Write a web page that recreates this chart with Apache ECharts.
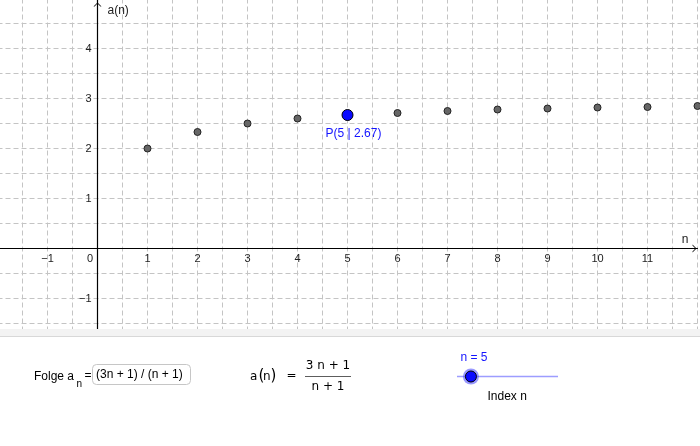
<!DOCTYPE html>
<html><head><meta charset="utf-8">
<script src="https://cdn.jsdelivr.net/npm/echarts@6/dist/echarts.min.js"></script>
<style>html,body{margin:0;padding:0;background:#fff}#c{width:700px;height:446px}</style>
</head><body><div id="c"></div>
<script>
// ---- data ----
const nValues = [1, 2, 3, 4, 5, 6, 7, 8, 9, 10, 11, 12];
const aValues = [2, 2.33, 2.5, 2.6, 2.67, 2.71, 2.75, 2.78, 2.8, 2.82, 2.83, 2.85];
const currentIndex = 5;
const sliderMin = 1, sliderMax = 30;
const xTickLabels = [-1, 0, 1, 2, 3, 4, 5, 6, 7, 8, 9, 10, 11];
const yTickLabels = [-1, 1, 2, 3, 4];
const inputText = '(3n + 1) / (n + 1)';
const numeratorText = '3 n + 1';
const denominatorText = 'n + 1';

const FONT = '"Liberation Sans", Arial, sans-serif';
const MATH = '"DejaVu Sans", sans-serif';
const fmt = v => (v < 0 ? '\u2212' + Math.abs(v) : String(v));
const chevron = 'path://M0,10 L10,0 L20,10 L17.5,10 L10,2.6 L2.5,10 Z';

const seqData = nValues.map((n, i) => [n, aValues[i]]);
const pIdx = nValues.indexOf(currentIndex);
const pData = [[nValues[pIdx], aValues[pIdx]]];

// view window
const xMin = -2, xMax = 12, yMin = -2, yMax = 5;
const gridW = 700, gridH = 350;
const xAxisShift = -(0 - yMin) * gridH / (yMax - yMin);  // move x axis up to y = 0
const yAxisShift = -(0 - xMin) * gridW / (xMax - xMin);  // move y axis right to x = 0

const sliderX0 = 457, sliderX1 = 558;
const knobX = sliderX0 + (sliderX1 - sliderX0) * (currentIndex - sliderMin) / (sliderMax - sliderMin);

const chart = echarts.init(document.getElementById('c'), null, {renderer: 'canvas'});
chart.setOption({
  animation: false,
  backgroundColor: '#fff',
  grid: {left: -2.5, top: -1.5, width: gridW, height: gridH, containLabel: false, outerBoundsMode: 'none'},
  xAxis: {
    type: 'value', min: xMin, max: xMax, interval: 0.5, position: 'bottom', offset: xAxisShift,
    name: 'n', nameLocation: 'end', nameGap: -12.5,
    nameTextStyle: {color: '#222', fontSize: 12, fontFamily: FONT, align: 'center', verticalAlign: 'bottom', padding: [0, 0, 3, 0]},
    axisLine: {show: true, onZero: false, symbol: ['none', chevron], symbolSize: [8, 5], symbolOffset: [0, -3],
      lineStyle: {color: '#000', width: 1.2}},
    axisTick: {show: false},
    axisLabel: {
      show: true, interval: 0, margin: 5, color: '#222', fontSize: 11, fontFamily: FONT, hideOverlap: false,
      formatter: v => {
        if (!xTickLabels.includes(v)) return '';
        if (v === 0) return '{z|0}';
        return fmt(v);
      },
      rich: {z: {padding: [0, 15, 0, 0], color: '#222', fontSize: 11, fontFamily: FONT}}
    },
    splitLine: {show: true, lineStyle: {color: '#c4c4c4', width: 1, type: [5, 3]}}
  },
  yAxis: {
    type: 'value', min: yMin, max: yMax, interval: 0.5, position: 'left', offset: yAxisShift,
    name: 'a(n)', nameLocation: 'end', nameGap: -12.5,
    nameTextStyle: {color: '#222', fontSize: 12, fontFamily: FONT, align: 'left', verticalAlign: 'middle', padding: [0, 0, 0, 10]},
    axisLine: {show: true, onZero: false, symbol: ['none', chevron], symbolSize: [8, 5], symbolOffset: [0, -6],
      lineStyle: {color: '#000', width: 1.2}},
    axisTick: {show: false},
    axisLabel: {
      interval: 0, margin: 6, color: '#222', fontSize: 11, fontFamily: FONT,
      formatter: v => (yTickLabels.includes(v) ? fmt(v) : '')
    },
    splitLine: {show: true, lineStyle: {color: '#c4c4c4', width: 1, type: [5, 3]}}
  },
  series: [
    {
      type: 'scatter', data: seqData, symbolSize: 7, silent: true, z: 2,
      itemStyle: {color: '#666666', borderColor: '#222', borderWidth: 1, opacity: 1}
    },
    {
      type: 'scatter', data: pData, symbolSize: 11, silent: true, z: 3,
      itemStyle: {color: '#0a0aff', borderColor: '#000', borderWidth: 1, opacity: 1},
      label: {
        show: true, position: 'bottom', distance: 5, offset: [6, 2],
        color: '#1414ff', fontSize: 12, fontFamily: FONT,
        formatter: p => 'P(' + p.value[0] + ' | ' + p.value[1].toFixed(2) + ')'
      }
    }
  ],
  graphic: [
    {type: 'rect', z: 100, silent: true, shape: {x: 0, y: 329, width: 700, height: 117}, style: {fill: '#fff'}},
    {type: 'rect', z: 101, silent: true, shape: {x: 0, y: 329, width: 700, height: 7}, style: {fill: '#f3f3f3'}},
    {type: 'line', z: 101, silent: true, shape: {x1: 0, y1: 336.5, x2: 700, y2: 336.5}, style: {stroke: '#d8d8d8', lineWidth: 1}},

    {type: 'text', z: 102, x: 34, y: 377, style: {text: 'Folge a', font: '12px ' + FONT, fill: '#000', verticalAlign: 'middle'}},
    {type: 'text', z: 102, x: 76.5, y: 384, style: {text: 'n', font: '10px ' + FONT, fill: '#000', verticalAlign: 'middle'}},
    {type: 'text', z: 102, x: 84.5, y: 375.5, style: {text: '=', font: '12px ' + FONT, fill: '#000', verticalAlign: 'middle'}},
    {type: 'rect', z: 102, shape: {x: 92.5, y: 364.5, width: 98, height: 20, r: 4}, style: {fill: '#fff', stroke: '#c6c6c6', lineWidth: 1}},
    {type: 'text', z: 103, x: 96, y: 375, style: {text: inputText, font: '12px ' + FONT, fill: '#000', verticalAlign: 'middle'}},

    {type: 'text', z: 102, x: 250, y: 377, style: {text: 'a', font: '12px ' + MATH, fill: '#000', verticalAlign: 'middle'}},
    {type: 'text', z: 102, x: 258.5, y: 376.5, style: {text: '(', font: '15px ' + MATH, fill: '#000', verticalAlign: 'middle'}},
    {type: 'text', z: 102, x: 263, y: 377, style: {text: 'n', font: '12px ' + MATH, fill: '#000', verticalAlign: 'middle'}},
    {type: 'text', z: 102, x: 270.5, y: 376.5, style: {text: ')', font: '15px ' + MATH, fill: '#000', verticalAlign: 'middle'}},
    {type: 'text', z: 102, x: 286.5, y: 376, style: {text: '=', font: '12px ' + MATH, fill: '#000', verticalAlign: 'middle'}},
    {type: 'text', z: 102, x: 328, y: 365.5, style: {text: numeratorText, font: '12px ' + MATH, fill: '#000', align: 'center', verticalAlign: 'middle'}},
    {type: 'line', z: 102, shape: {x1: 305, y1: 376.5, x2: 351, y2: 376.5}, style: {stroke: '#333', lineWidth: 0.8}},
    {type: 'text', z: 102, x: 328, y: 386.5, style: {text: denominatorText, font: '12px ' + MATH, fill: '#000', align: 'center', verticalAlign: 'middle'}},

    {type: 'line', z: 102, shape: {x1: sliderX0, y1: 376.5, x2: sliderX1, y2: 376.5}, style: {stroke: '#9d9dff', lineWidth: 1.5}},
    {type: 'circle', z: 103, shape: {cx: knobX, cy: 376.5, r: 8}, style: {fill: 'rgba(70,70,255,0.55)'}},
    {type: 'circle', z: 104, shape: {cx: knobX, cy: 376.5, r: 5.5}, style: {fill: '#0a0aff', stroke: '#000', lineWidth: 1}},
    {type: 'text', z: 102, x: 460.5, y: 357.5, style: {text: 'n = ' + currentIndex, font: '12px ' + FONT, fill: '#1414ff', verticalAlign: 'middle'}},
    {type: 'text', z: 102, x: 487.5, y: 397, style: {text: 'Index n', font: '12px ' + FONT, fill: '#000', verticalAlign: 'middle'}}
  ]
});
</script>
</body></html>
